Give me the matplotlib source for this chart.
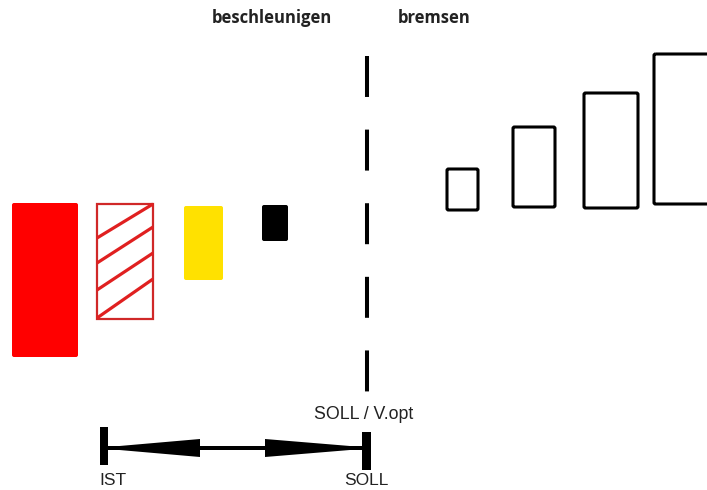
import matplotlib.pyplot as plt
from matplotlib.patches import Rectangle, FancyBboxPatch, Polygon

plt.rcParams["lines.scale_dashes"] = False

# filled blocks (left side): x, y, width, height, colour
fill_x = [12, 184, 262]
fill_y = [203, 206, 205]
fill_w = [66, 39, 26]
fill_h = [154, 74, 36]
fill_colors = ["#ff0000", "#ffe100", "#000000"]

# hatched block
hatch_box = (97, 204, 56, 115)
hatch_left_y = [238, 263, 290, 318]
hatch_right_y = [204, 227, 253, 279]

# outlined blocks (right side)
out_x = [447, 513, 584, 654]
out_y = [169, 127, 93, 54]
out_w = [31, 42, 54, 70]
out_h = [41, 80, 115, 150]

# divider and scale
divider_x = 367
divider_top, divider_bottom = 56, 395
ist_x, soll_x = 104, 366
arrow_y = 448

fig = plt.figure(figsize=(7.07, 4.9), dpi=100)
ax = fig.add_axes([0, 0, 1, 1])
ax.set_xlim(0, 707)
ax.set_ylim(490, 0)
ax.axis("off")

# left blocks
for x, y, w, h, c in zip(fill_x, fill_y, fill_w, fill_h, fill_colors):
    ax.add_patch(FancyBboxPatch((x, y), w, h, boxstyle="round,pad=0,rounding_size=2",
                                fc=c, ec="none"))

hx, hy, hw, hh = hatch_box
ax.add_patch(Rectangle((hx, hy), hw, hh, fc="white", ec="#d02828", lw=1.6))
for yl, yr in zip(hatch_left_y, hatch_right_y):
    x_end = hx + hw
    if yr < hy:
        x_end = hx + hw * (yl - hy) / (yl - yr)
        yr = hy
    ax.plot([hx, x_end], [yl, yr], color="#e02020", lw=2.3, solid_capstyle="butt")

# right blocks
for x, y, w, h in zip(out_x, out_y, out_w, out_h):
    ax.add_patch(FancyBboxPatch((x, y), w, h, boxstyle="round,pad=0,rounding_size=1.5",
                                fc="none", ec="black", lw=2.2))

# dashed divider
ax.plot([divider_x, divider_x], [divider_top, divider_bottom], color="black",
        lw=2.9, dashes=(29.5, 23.5), dash_capstyle="butt")

# IST / SOLL bars
ax.add_patch(Rectangle((ist_x - 4, 427), 8, 38, fc="black", ec="none"))
ax.add_patch(Rectangle((soll_x - 4, 432), 9, 38, fc="black", ec="none"))

# double arrow
ax.add_patch(Rectangle((ist_x + 4, arrow_y - 2), soll_x - ist_x - 8, 4, fc="black", ec="none"))
ax.add_patch(Polygon([(ist_x + 4, arrow_y - 1), (200, arrow_y - 9), (200, arrow_y + 9),
                      (ist_x + 4, arrow_y + 1)], fc="black", ec="none"))
ax.add_patch(Polygon([(soll_x - 4, arrow_y - 1), (265, arrow_y - 9), (265, arrow_y + 9),
                      (soll_x - 4, arrow_y + 1)], fc="black", ec="none"))

# labels
ax.text(272, 18, "beschleunigen", ha="center", va="center", fontsize=12,
        fontweight="bold", family="Open Sans", color="#222222")
ax.text(434, 18, "bremsen", ha="center", va="center", fontsize=12,
        fontweight="bold", family="Open Sans", color="#222222")
ax.text(364, 414, "SOLL / V.opt", ha="center", va="center", fontsize=12.8,
        family="Liberation Sans", color="#222222")
ax.text(99, 480, "IST", ha="left", va="center", fontsize=12.5,
        family="Liberation Sans", color="#222222")
ax.text(366, 480, "SOLL", ha="center", va="center", fontsize=12.5,
        family="Liberation Sans", color="#222222")

fig.savefig("out.png", dpi=100)
